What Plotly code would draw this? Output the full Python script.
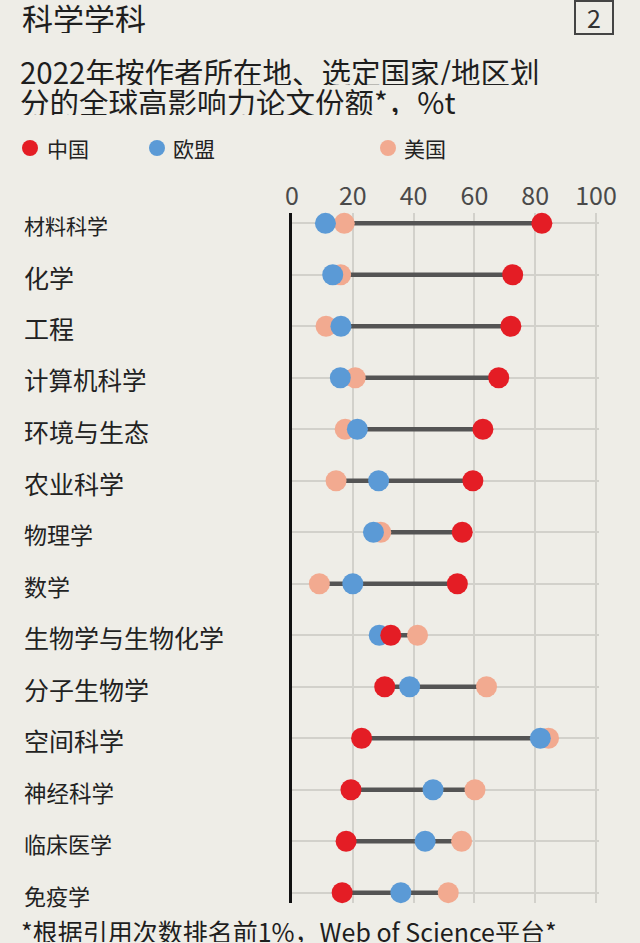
import plotly.graph_objects as go

# ---------------- data ----------------
categories = ["材料科学", "化学", "工程", "计算机科学", "环境与生态", "农业科学", "物理学",
              "数学", "生物学与生物化学", "分子生物学", "空间科学", "神经科学", "临床医学", "免疫学"]
china = [82.2, 72.6, 72.0, 68.0, 62.8, 59.5, 56.0, 54.4, 32.5, 30.5, 22.9, 19.4, 17.8, 16.5]
eu    = [11.0, 13.4, 16.1, 15.9, 21.5, 28.5, 26.8, 20.0, 28.7, 38.7, 81.7, 46.4, 43.8, 35.8]
usa   = [17.2, 16.0, 11.2, 20.8, 17.5, 14.5, 29.2,  9.0, 41.3, 64.0, 84.4, 60.2, 55.8, 51.4]
series_names = ["中国", "欧盟", "美国"]
x_ticks = [0, 20, 40, 60, 80, 100]

title = "科学学科"
subtitle1 = "2022年按作者所在地、选定国家/地区划"
subtitle2 = "分的全球高影响力论文份额*，%t"
footer = "*根据引用次数排名前1%，Web of Science平台*"
badge = "2"

# ---------------- style ----------------
W, H = 640, 943
ML, MR, MT, MB = 292, 41, 213, 40
PW, PH = W - ML - MR, H - MT - MB
BG = "#eeede7"
C_CN, C_EU, C_US = "#e41d25", "#5b9ad6", "#f2aa90"
FONT = "Noto Sans CJK SC"
label_sizes = [21, 25, 25, 24.5, 25, 25, 23, 23, 25, 25, 25, 22.5, 22, 22]


def px(xp):
    return (xp - ML) / PW


def py(yp):
    return 1 - (yp - MT) / PH


fig = go.Figure()

# connectors (min to max per row)
lx, ly = [], []
for c, a, b, d in zip(categories, china, eu, usa):
    vals = [a, b, d]
    lx += [min(vals), max(vals), None]
    ly += [c, c, None]
fig.add_trace(go.Scatter(x=lx, y=ly, mode="lines", line=dict(color="#545454", width=4.5),
                         hoverinfo="skip", showlegend=False))

for name, vals, col in [(series_names[2], usa, C_US), (series_names[1], eu, C_EU), (series_names[0], china, C_CN)]:
    fig.add_trace(go.Scatter(x=vals, y=categories, mode="markers", name=name,
                             marker=dict(size=21, color=col, line=dict(width=0)),
                             showlegend=False, cliponaxis=False))

annotations = []
# category labels
for c, s in zip(categories, label_sizes):
    annotations.append(dict(x=px(22), xref="paper", y=c, yref="y", text=c, showarrow=False,
                            xanchor="left", yanchor="middle", yshift=-2,
                            font=dict(family=FONT, size=s, color="#222222")))

# titles
annotations.append(dict(x=px(20), y=py(17), xref="paper", yref="paper", text=title, showarrow=False,
                        xanchor="left", yanchor="middle", height=32,
                        font=dict(family=FONT, size=31, color="#1e1e1e")))
annotations.append(dict(x=px(18), y=py(70), xref="paper", yref="paper", text=subtitle1, showarrow=False,
                        xanchor="left", yanchor="middle", height=29,
                        font=dict(family=FONT, size=29.5, color="#1e1e1e")))
annotations.append(dict(x=px(18), y=py(101), xref="paper", yref="paper", text=subtitle2, showarrow=False,
                        xanchor="left", yanchor="middle", height=29,
                        font=dict(family=FONT, size=29.5, color="#1e1e1e")))
annotations.append(dict(x=px(594), y=py(17), xref="paper", yref="paper", text=badge, showarrow=False,
                        xanchor="center", yanchor="middle", height=30,
                        font=dict(family=FONT, size=25, color="#333333")))
annotations.append(dict(x=px(19), y=py(931), xref="paper", yref="paper", text=footer, showarrow=False,
                        xanchor="left", yanchor="middle", height=22,
                        font=dict(family=FONT, size=25, color="#1e1e1e")))

shapes = []
# legend
for name, col, dx, tx in [(series_names[0], C_CN, 30, 45), (series_names[1], C_EU, 157, 171), (series_names[2], C_US, 388, 402)]:
    shapes.append(dict(type="circle", xref="paper", yref="paper",
                       x0=px(dx - 8), x1=px(dx + 8), y0=py(148 + 8), y1=py(148 - 8),
                       fillcolor=col, line=dict(width=0)))
    annotations.append(dict(x=px(tx), y=py(148), xref="paper", yref="paper", text=name, showarrow=False,
                            xanchor="left", yanchor="middle", font=dict(family=FONT, size=21, color="#222222")))

shapes.append(dict(type="rect", xref="paper", yref="paper", x0=px(575), x1=px(613), y0=py(34), y1=py(1),
                   line=dict(color="#444444", width=2), fillcolor="rgba(0,0,0,0)"))

fig.update_layout(
    width=W, height=H,
    margin=dict(l=ML, r=MR, t=MT, b=MB, pad=0),
    paper_bgcolor=BG, plot_bgcolor=BG,
    showlegend=False,
    annotations=annotations, shapes=shapes,
    xaxis=dict(range=[0, 101], side="top", tickvals=x_ticks, ticktext=[str(t) for t in x_ticks],
               showgrid=True, gridcolor="#d2d1cb", gridwidth=1.5, zeroline=False, showline=False,
               ticks="", tickfont=dict(family=FONT, size=25, color="#4a4a4a"), ticklabelstandoff=2),
    yaxis=dict(categoryorder="array", categoryarray=categories,
               range=[len(categories) - 1 + 0.2, -0.2],
               showgrid=True, gridcolor="#d2d1cb", gridwidth=1.5, zeroline=False,
               showline=True, linecolor="#111111", linewidth=2.5,
               showticklabels=False, ticks=""),
)

fig.write_html("out.html", config={"displayModeBar": False},
               post_script="document.body.style.margin='0px';document.body.style.padding='0px';"
                           "document.body.style.background='#eeede7';")
